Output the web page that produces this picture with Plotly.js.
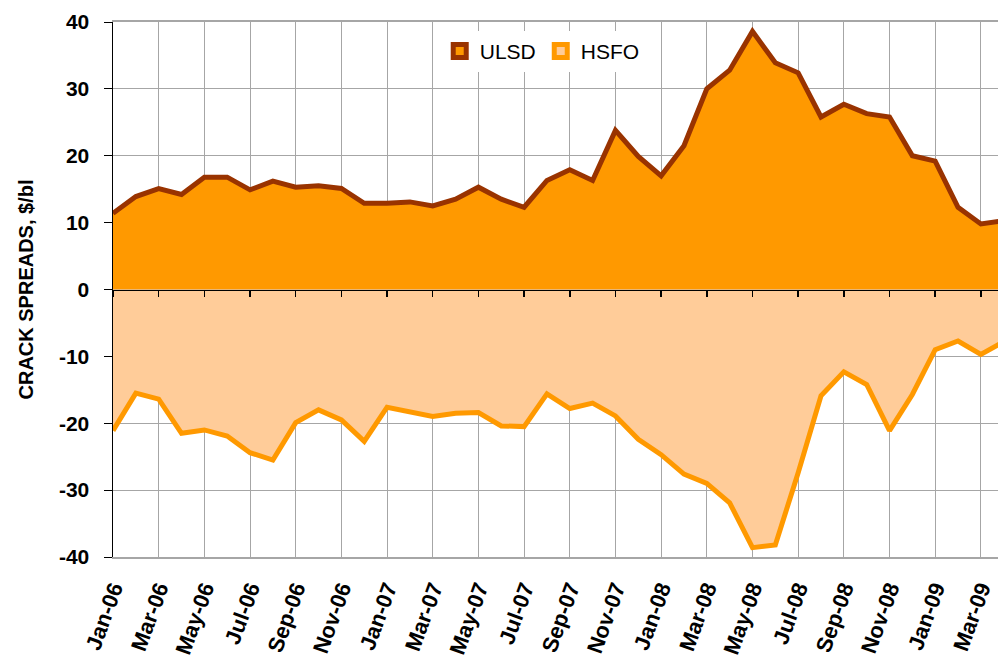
<!DOCTYPE html>
<html>
<head>
<meta charset="utf-8">
<script src="https://cdn.plot.ly/plotly-3.0.1.min.js"></script>
<style>html,body{margin:0;padding:0;background:#fff;}#chart{width:998px;height:659px;}</style>
</head>
<body>
<div id="chart"></div>
<script>
const months = ["Jan-06","Feb-06","Mar-06","Apr-06","May-06","Jun-06","Jul-06","Aug-06","Sep-06","Oct-06","Nov-06","Dec-06",
"Jan-07","Feb-07","Mar-07","Apr-07","May-07","Jun-07","Jul-07","Aug-07","Sep-07","Oct-07","Nov-07","Dec-07",
"Jan-08","Feb-08","Mar-08","Apr-08","May-08","Jun-08","Jul-08","Aug-08","Sep-08","Oct-08","Nov-08","Dec-08",
"Jan-09","Feb-09","Mar-09","Apr-09"];
const ulsd = [11.4,13.9,15.1,14.2,16.8,16.8,14.9,16.2,15.3,15.5,15.1,12.9,
12.9,13.1,12.5,13.5,15.3,13.5,12.3,16.3,17.9,16.3,23.8,19.9,
17.0,21.5,30.0,32.8,38.6,33.9,32.4,25.8,27.7,26.3,25.8,20.0,
19.2,12.3,9.8,10.3];
const hsfo = [-21.1,-15.5,-16.4,-21.5,-21.0,-21.9,-24.4,-25.5,-19.9,-18.0,-19.5,-22.7,
-17.6,-18.3,-19.0,-18.5,-18.4,-20.4,-20.5,-15.6,-17.8,-17.0,-18.9,-22.4,
-24.7,-27.6,-29.0,-31.9,-38.6,-38.2,-27.4,-15.9,-12.3,-14.2,-21.1,-15.7,
-9.0,-7.7,-9.7,-7.8];
const tickLabels = months.filter((m,i)=>i%2===0);
const yTicks = [-40,-30,-20,-10,0,10,20,30,40];
const yTickText = ["-40","-30","-20","-10","0","10","20","30","40"];

const FONT = "Liberation Sans, Arial, sans-serif";
const traces = [
 {x: months, y: ulsd, name: "ULSD", type: "scatter", mode: "lines", fill: "tozeroy", showlegend: false,
  fillcolor: "#FF9900", line: {color: "#993300", width: 5}},
 {x: months, y: hsfo, name: "HSFO", type: "scatter", mode: "lines", fill: "tozeroy", showlegend: false,
  fillcolor: "#FFCC99", line: {color: "#FF9900", width: 5}},
 {x: [null], y: [null], xaxis: "x2", name: "ULSD", type: "scatter", mode: "markers", showlegend: true,
  marker: {symbol: "square", size: 13, color: "#FF9900", line: {color: "#993300", width: 7}}},
 {x: [null], y: [null], xaxis: "x2", name: "HSFO", type: "scatter", mode: "markers", showlegend: true,
  marker: {symbol: "square", size: 13, color: "#FFCC99", line: {color: "#FF9900", width: 7}}}
];
const layout = {
 width: 998, height: 659,
 margin: {l: 113, r: 0, t: 22, b: 102},
 paper_bgcolor: "#fff", plot_bgcolor: "#fff",
 font: {family: FONT, color: "#000"},
 showlegend: true,
 legend: {orientation: "h", x: 0.485, xanchor: "center", y: 0.945, yanchor: "middle",
   bgcolor: "#fff", font: {size: 21, color: "#000"}, itemwidth: 30, traceorder: "normal"},
 xaxis: {type: "category", range: [0, 38.75], tickmode: "array", tickvals: tickLabels, ticktext: tickLabels,
   tickangle: -70, tickfont: {size: 22, family: FONT, weight: "bold"}, ticklabelstandoff: 8,
   showgrid: true, gridcolor: "#a6a6a6", gridwidth: 1,
   showline: true, linecolor: "#a6a6a6", linewidth: 2, mirror: true,
   ticks: "", zeroline: false},
 xaxis2: {type: "category", matches: "x", overlaying: "x", anchor: "free", position: 0.5,
   tickmode: "array", tickvals: tickLabels, showticklabels: false,
   showgrid: false, showline: true, linecolor: "#000", linewidth: 1.5, zeroline: false,
   ticks: "outside", ticklen: 6, tickcolor: "#000", tickwidth: 1.5, layer: "above traces"},
 yaxis: {range: [-40, 40], tickmode: "array", tickvals: yTicks, ticktext: yTickText,
   tickfont: {size: 21, family: FONT, weight: "bold"},
   showgrid: true, gridcolor: "#a6a6a6", gridwidth: 1,
   showline: true, linecolor: "#000", linewidth: 1.5,
   ticks: "outside", ticklen: 8, tickcolor: "#000", ticklabelstandoff: 10,
   zeroline: false,
   title: {text: "CRACK SPREADS, $/bl", font: {size: 20, weight: "bold"}, standoff: 20}}
};
Plotly.newPlot("chart", traces, layout, {displayModeBar: false, staticPlot: true});
</script>
</body>
</html>
